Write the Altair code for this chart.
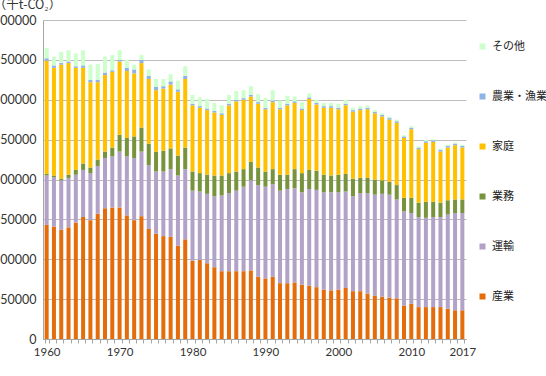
import altair as alt
import pandas as pd

years = list(range(1960, 2018))

# 千t-CO2
sangyo = [143000, 141000, 137000, 140000, 146000, 153000, 149000, 157000, 164000, 165000,
          165000, 155000, 149000, 154000, 138000, 132000, 129000, 128000, 117000, 125000,
          98000, 99000, 95000, 90000, 85000, 85000, 85000, 85000, 86000, 78000,
          76000, 78000, 70000, 70000, 71000, 68000, 67000, 65000, 62000, 61000,
          62000, 64000, 60000, 60000, 57000, 54000, 53000, 52000, 51000, 42000,
          44000, 40000, 40000, 40000, 40000, 38000, 36000, 36000]
unyu = [62000, 62000, 62000, 62000, 60000, 59000, 59000, 60000, 63000, 64000,
        70000, 74000, 78000, 81000, 80000, 78000, 81000, 85000, 88000, 88000,
        88000, 86000, 87000, 89000, 95000, 98000, 101000, 106000, 113000, 115000,
        115000, 116000, 116000, 118000, 118000, 116000, 121000, 122000, 122000, 123000,
        122000, 121000, 119000, 123000, 126000, 127000, 129000, 129000, 124000, 118000,
        114000, 113000, 112000, 113000, 113000, 118000, 122000, 122000]
gyomu = [2000, 2000, 2000, 4000, 6000, 8000, 7000, 8000, 8000, 11000,
         21000, 23000, 27000, 30000, 27000, 25000, 26000, 26000, 25000, 27000,
         24000, 23000, 24000, 26000, 25000, 25000, 24000, 22000, 23000, 22000,
         19000, 19000, 20000, 18000, 24000, 24000, 24000, 24000, 22000, 21000,
         22000, 22000, 22000, 19000, 19000, 19000, 17000, 16000, 18000, 17000,
         19000, 18000, 20000, 19000, 18000, 18000, 17000, 17000]
katei = [142000, 135000, 143000, 140000, 128000, 120000, 107000, 97000, 96000, 95000,
         92000, 84000, 79000, 81000, 81000, 77000, 78000, 80000, 80000, 86000,
         83000, 82000, 81000, 79000, 76000, 85000, 88000, 87000, 82000, 80000,
         78000, 84000, 82000, 87000, 83000, 79000, 89000, 83000, 84000, 85000,
         82000, 86000, 84000, 85000, 86000, 83000, 80000, 78000, 78000, 75000,
         86000, 67000, 74000, 75000, 64000, 66000, 68000, 65000]
nogyo = [3000, 3000, 2000, 2000, 2000, 3000, 3000, 3000, 3000, 2000,
         2000, 4000, 5000, 4000, 4000, 4000, 3000, 4000, 3000, 4000,
         2000, 2000, 2000, 2000, 2000, 2000, 2000, 2000, 2000, 2000,
         2000, 2000, 2000, 2000, 2000, 2000, 2000, 2000, 2000, 2000,
         2000, 2000, 2000, 2000, 2000, 2000, 2000, 2000, 2000, 2000,
         2000, 2000, 2000, 2000, 2000, 2000, 2000, 2000]
sonota = [13000, 11000, 14000, 14000, 16000, 19000, 19000, 20000, 20000, 19000,
          12000, 10000, 6000, 6000, 8000, 10000, 9000, 9000, 11000, 12000,
          11000, 11000, 12000, 10000, 10000, 11000, 11000, 10000, 11000, 10000,
          12000, 13000, 9000, 10000, 6000, 8000, 5000, 4000, 4000, 4000,
          5000, 5000, 3000, 3000, 3000, 2000, 2000, 2000, 2000, 1500,
          2000, 1500, 1500, 1500, 1500, 1500, 1500, 1500]

series_names = ["産業", "運輸", "業務", "家庭", "農業・漁業", "その他"]
series_values = [sangyo, unyu, gyomu, katei, nogyo, sonota]
series_colors = ["#E46C0A", "#B3A2C7", "#77933C", "#FFC000", "#8EB4E3", "#CCFFCC"]
tick_years = [1960, 1970, 1980, 1990, 2000, 2010, 2017]

rows = []
for k, (name, vals) in enumerate(zip(series_names, series_values)):
    for y, v in zip(years, vals):
        rows.append({"year": y, "sector": name, "value": v, "k": k})
df = pd.DataFrame(rows)

legend_order = series_names[::-1]
color_order = series_colors[::-1]

label_expr = "indexof([" + ",".join(str(t) for t in tick_years) + "], +datum.value) >= 0 ? datum.label : ''"

num_font = "Lato"
jp_font = "Noto Sans CJK JP"

chart = alt.Chart(df).mark_bar().encode(
    x=alt.X("year:O",
            scale=alt.Scale(paddingInner=0.45, paddingOuter=0.225),
            axis=alt.Axis(title=None, labelAngle=0, labelExpr=label_expr,
                          labelOverlap=False, tickBand="extent", tickSize=4,
                          tickColor="#A6A6A6", domainColor="#A6A6A6",
                          labelFont=num_font, labelFontSize=11.5, labelColor="#333333",
                          labelPadding=3)),
    y=alt.Y("value:Q",
            scale=alt.Scale(domain=[0, 400000], nice=False),
            axis=alt.Axis(title="（千t-CO₂）", titleAngle=0, titleAlign="center",
                          titleBaseline="alphabetic", titleX=-16, titleY=-12,
                          titleFont=jp_font, titleFontSize=12.5, titleFontWeight="normal",
                          titleColor="#333333",
                          values=[0, 50000, 100000, 150000, 200000, 250000, 300000, 350000, 400000],
                          format="d", ticks=False, labelPadding=7,
                          labelFont=num_font, labelFontSize=12.5, labelColor="#333333",
                          gridColor="#BDBDBD", domainColor="#A6A6A6")),
    color=alt.Color("sector:N",
                    scale=alt.Scale(domain=legend_order, range=color_order),
                    legend=alt.Legend(title=None, orient="none", legendX=434, legendY=21,
                                      symbolType="square", symbolSize=36,
                                      symbolStrokeWidth=0, labelFont=jp_font,
                                      labelFontSize=11, labelColor="#222222",
                                      rowPadding=38, labelOffset=4, labelLimit=80)),
    order=alt.Order("k:Q", sort="ascending"),
).properties(
    width=423, height=319,
    autosize=alt.AutoSizeParams(type="none"),
    padding={"left": 43, "top": 20, "right": 80, "bottom": 37},
).configure_view(stroke=None)

chart.save("out.html", embed_options={"renderer": "svg", "actions": False})
